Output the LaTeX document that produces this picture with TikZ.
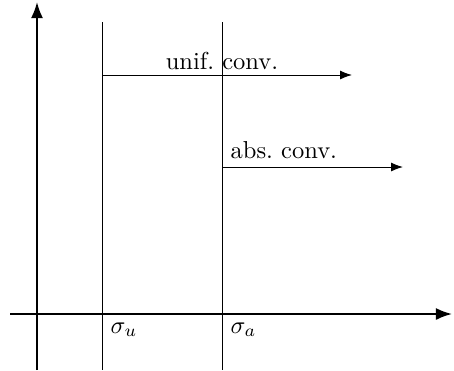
\documentclass[tikz,border=0pt]{standalone}
\usepackage{amsmath,amssymb}
\usetikzlibrary{arrows.meta, positioning}

\begin{document}
\begin{tikzpicture}[
  x=0.408pt, y=-0.408pt,
  axis/.style={thick, -Latex},
  bound/.style={thin},
  conv/.style={thin, -Latex},
  every node/.style={font=\normalsize}
]
  \useasboundingbox (0,0) rectangle (454,370);
  % axes
  \coordinate (xl) at (10,314);
  \coordinate (xr) at (452,314);
  \coordinate (yb) at (37,370);
  \coordinate (yt) at (37,2);
  \draw[axis] (xl) -- (xr);
  \draw[axis] (yb) -- (yt);
  % abscissas of convergence
  \coordinate (ut) at (102,22);
  \coordinate (ub) at (102,370);
  \coordinate (at) at (222,22);
  \coordinate (ab) at (222,370);
  \draw[bound] (ut) -- (ub);
  \draw[bound] (at) -- (ab);
  \coordinate (su) at (102,314);
  \coordinate (sa) at (222,314);
  \node[below right] (lu) at (su) {$\sigma_u$};
  \node[below right] (la) at (sa) {$\sigma_a$};
  % half planes
  \coordinate (u0) at (102,75);
  \coordinate (u1) at (352,75);
  \coordinate (a0) at (222,167);
  \coordinate (a1) at (403,167);
  \draw[conv] (u0) -- (u1);
  \draw[conv] (a0) -- (a1);
  \node[above, inner sep=2pt] (unif) at (222,75) {unif.\ conv.};
  \node[above right] (abs) at (a0) {abs.\ conv.};
\end{tikzpicture}
\end{document}
